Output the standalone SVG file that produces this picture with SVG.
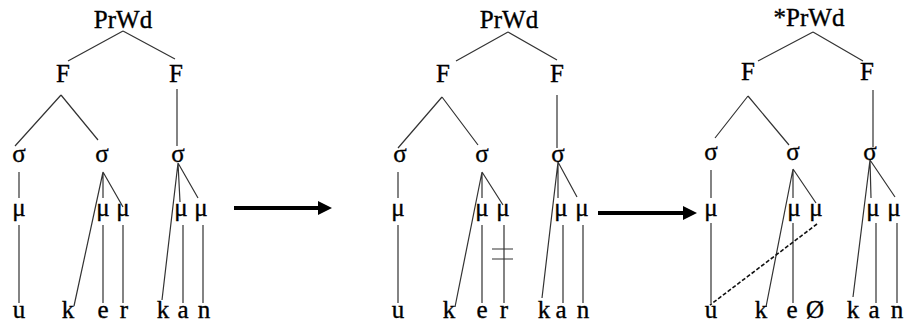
<svg xmlns="http://www.w3.org/2000/svg" width="904" height="327" viewBox="0 0 904 327">
<style>
text{font-family:"Liberation Serif","Times New Roman",serif;font-size:25px;fill:#000;stroke:#000;stroke-width:0.35;text-anchor:middle}
.l{stroke:#333;stroke-width:1.2;fill:none}
.d{stroke:#111;stroke-width:1.6;stroke-dasharray:4,2;fill:none}
.ar{stroke:#000;stroke-width:4}
</style>
<rect width="904" height="327" fill="#fff"/>
<g id="connectors">
<path class="l" d="M123,31L68,61M123,31L175,59M61,95L15,146M61,95L98,140M177,89L177,146M19,172L19,198M19,225L19,303M103,172L74,306M103,172L103,198M103,172L123,207M103,225L103,303M123,225L123,303M178,163L162,300M178,163L180,202M178,163L198,198M183,225L183,303M203,225L203,303"/>
<path class="l" d="M508,32L456,61M508,32L557,60M442,97L398,148M442,97L478,145M557,95L557,148M398,172L398,198M398,225L398,303M482,172L455,307M482,172L482,198M482,172L503,205M482,225L482,303M504,225L504,303M492,249L513,249M492,259L513,259M558,162L542,298M558,162L558,198M558,162L577,197M563,225L563,303M583,225L583,303"/>
<path class="l" d="M813,32L758,61M813,32L863,61M748,96L715,138M748,96L789,145M873,90L873,147M711,170L711,198M711,223L711,303M793,169L766,307M793,169L793,198M793,169L816,203M793,223L793,303M870,160L853,297M870,160L871,198M870,160L895,197M876,223L876,303M897,223L897,303"/>
<path class="d" d="M817,224L710,305"/>
<line class="ar" x1="234" y1="208" x2="320" y2="208"/>
<polygon points="318,201 332,208 318,215" fill="#000"/>
<line class="ar" x1="598" y1="213" x2="685" y2="213"/>
<polygon points="683,206 697,213 683,220" fill="#000"/>
</g>
<g id="tree1">
<g id="t1-prwd"><text x="123" y="28">PrWd</text></g>
<g id="t1-f1"><text x="63" y="82">F</text></g>
<g id="t1-f2"><text x="176" y="82">F</text></g>
<g id="t1-s1"><text x="19" y="162">σ</text></g>
<g id="t1-s2"><text x="102" y="162">σ</text></g>
<g id="t1-s3"><text x="178" y="162">σ</text></g>
<g id="t1-m1"><text x="19" y="216">μ</text></g>
<g id="t1-m2"><text x="103" y="216">μ</text></g>
<g id="t1-m3"><text x="123" y="216">μ</text></g>
<g id="t1-m4"><text x="181" y="216">μ</text></g>
<g id="t1-m5"><text x="201" y="216">μ</text></g>
<g id="t1-seg"><text x="19" y="318">u</text><text x="68" y="318">k</text><text x="103" y="318">e</text><text x="124" y="318">r</text><text x="163" y="318">k</text><text x="183" y="318">a</text><text x="204" y="318">n</text></g>
</g>
<g id="tree2">
<g id="t2-prwd"><text x="509" y="28">PrWd</text></g>
<g id="t2-f1"><text x="443" y="82">F</text></g>
<g id="t2-f2"><text x="557" y="82">F</text></g>
<g id="t2-s1"><text x="400" y="162">σ</text></g>
<g id="t2-s2"><text x="482" y="162">σ</text></g>
<g id="t2-s3"><text x="558" y="162">σ</text></g>
<g id="t2-m1"><text x="398" y="216">μ</text></g>
<g id="t2-m2"><text x="482" y="216">μ</text></g>
<g id="t2-m3"><text x="503" y="216">μ</text></g>
<g id="t2-m4"><text x="561" y="216">μ</text></g>
<g id="t2-m5"><text x="582" y="216">μ</text></g>
<g id="t2-seg"><text x="398" y="318">u</text><text x="449" y="318">k</text><text x="482" y="318">e</text><text x="504" y="318">r</text><text x="544" y="318">k</text><text x="561" y="318">a</text><text x="583" y="318">n</text></g>
</g>
<g id="tree3">
<g id="t3-prwd"><text x="809" y="26">*PrWd</text></g>
<g id="t3-f1"><text x="748" y="80">F</text></g>
<g id="t3-f2"><text x="867" y="80">F</text></g>
<g id="t3-s1"><text x="711" y="160">σ</text></g>
<g id="t3-s2"><text x="793" y="160">σ</text></g>
<g id="t3-s3"><text x="870" y="160">σ</text></g>
<g id="t3-m1"><text x="711" y="216">μ</text></g>
<g id="t3-m2"><text x="794" y="216">μ</text></g>
<g id="t3-m3"><text x="816" y="216">μ</text></g>
<g id="t3-m4"><text x="873" y="216">μ</text></g>
<g id="t3-m5"><text x="894" y="216">μ</text></g>
<g id="t3-seg"><text x="711" y="318">u</text><text x="761" y="318">k</text><text x="792" y="318">e</text><text x="815" y="318">Ø</text><text x="853" y="318">k</text><text x="874" y="318">a</text><text x="897" y="318">n</text></g>
</g>
</svg>
